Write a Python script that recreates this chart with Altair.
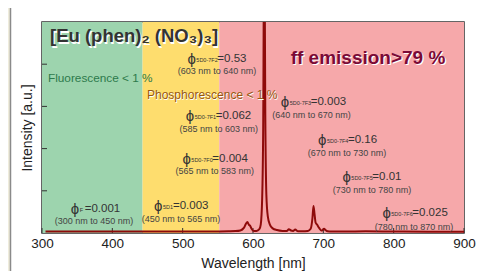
import altair as alt
import pandas as pd

# ---------------- data ----------------
wavelength = [305, 350, 400, 450, 500, 540, 565, 575, 582, 587, 590, 592, 594, 596, 598,
              601, 605, 609, 611, 613, 614.5, 616, 617.5, 619, 621, 624, 628, 634, 642,
              648, 651, 654, 657, 660, 664, 670, 678, 682, 684.5, 686, 687.5, 689, 691,
              694, 697, 699, 701, 703, 706, 712, 730, 760, 800, 850, 900]
intensity = [0.035, 0.035, 0.035, 0.035, 0.035, 0.035, 0.04, 0.045, 0.06, 0.12, 0.22, 0.26, 0.2, 0.17, 0.1,
             0.05, 0.05, 0.09, 0.2, 0.8, 2.5, 7.5, 2.8, 0.9, 0.4, 0.2, 0.11, 0.07, 0.05,
             0.05, 0.09, 0.06, 0.05, 0.08, 0.04, 0.04, 0.05, 0.1, 0.35, 0.64, 0.45, 0.25, 0.2,
             0.12, 0.06, 0.07, 0.1, 0.07, 0.04, 0.035, 0.035, 0.04, 0.035, 0.03, 0.03]

band_name = ["fluorescence", "phosphorescence", "ff"]
band_start = [300, 443, 552]
band_end = [443, 552, 900]
band_color = ["#9dd4ae", "#fedd6e", "#f6a8aa"]

x_ticks = [300, 400, 500, 600, 700, 800, 900]
y_ticks = [1, 2, 3, 4]

phi_w = [518.0, 515.7, 510.9, 352.2, 470.6, 650.8, 703.8, 738.4, 795.2]
phi_u = [4.12, 2.78, 1.75, 0.57, 0.64, 3.10, 2.20, 1.33, 0.47]
phi_sub = ["5D0-7F2", "5D0-7F1", "5D0-7F0", "F", "5D1", "5D0-7F3", "5D0-7F4", "5D0-7F5", "5D0-7F6"]
phi_kind = ["D0", "D0", "D0", "F", "D1", "D0", "D0", "D0", "D0"]
phi_val = ["=0.53", "=0.062", "=0.004", "=0.001", "=0.003", "=0.003", "=0.16", "=0.01", "=0.025"]

range_txt = ["(603 nm to 640 nm)", "(585 nm to 603 nm)", "(565 nm to 583 nm)",
             "(300 nm to 450 nm)", "(450 nm to 565 nm)", "(640 nm to 670 nm)",
             "(670 nm to 730 nm)", "(730 nm to 780 nm)", "(780 nm to 870 nm)"]
range_w = [548.8, 551.2, 545.5, 373.9, 497.6, 683.2, 733.7, 769.2, 828.9]
range_u = [3.84, 2.46, 1.47, 0.28, 0.33, 2.80, 1.90, 1.02, 0.14]

head_txt = ["[Eu (phen)\u2082 (NO\u2083)\u2083]", "ff emission>79 %"]
head_w = [311.4, 763.5]
head_u = [4.66, 4.15]

note_txt = ["Fluorescence < 1 %", "Phosphorescence < 1 %"]
note_w = [308.5, 449.3]
note_u = [3.67, 3.27]

# ---------------- frames ----------------
spec = pd.DataFrame({"w": wavelength, "i": intensity})
bands = pd.DataFrame({"name": band_name, "s": band_start, "e": band_end})
xt = pd.DataFrame({"w": x_ticks})
yt = pd.DataFrame({"u": y_ticks})
phi = pd.DataFrame({"w": phi_w, "u": phi_u, "sub": phi_sub, "kind": phi_kind, "val": phi_val})
rng = pd.DataFrame({"w": range_w, "u": range_u, "t": range_txt})
head = pd.DataFrame({"w": head_w, "u": head_u, "t": head_txt})
note = pd.DataFrame({"w": note_w, "u": note_u, "t": note_txt})

W, H = 422, 211
FONT = "Liberation Sans"
NARROW = "Liberation Sans Narrow, Liberation Sans"

xs = alt.Scale(domain=[300, 900], nice=False, zero=False)
ys = alt.Scale(domain=[0, 5], nice=False, zero=True)
xaxis = alt.Axis(values=x_ticks, tickSize=0, domain=False, grid=False, labelFontSize=13.5,
                 labelPadding=3, labelFlush=False, labelOverlap=False, titleFontSize=14,
                 titlePadding=7, labelColor="#222",
                 titleColor="#222", labelFont=FONT, titleFont=FONT, titleFontWeight="normal")
yaxis = alt.Axis(labels=False, ticks=False, domain=False, grid=False, titleFontSize=14,
                 titlePadding=8, titleColor="#222", titleFont=FONT, titleFontWeight="normal")


def X(f):
    return alt.X(f, type="quantitative", scale=xs, axis=xaxis, title="Wavelength [nm]")


def Y(f):
    return alt.Y(f, type="quantitative", scale=ys, axis=yaxis, title="Intensity [a.u.]")


frame = alt.Chart(pd.DataFrame({"k": [0]})).mark_rect(color="#efecdc").encode(
    x=alt.value(-34), x2=alt.value(-32), y=alt.value(-14), y2=alt.value(H + 40))
frame_line = alt.Chart(pd.DataFrame({"k": [0]})).mark_rule(color="#8a8a8a", strokeWidth=1.5).encode(
    x=alt.value(-31.5), y=alt.value(-14), y2=alt.value(H + 40))

band_layer = alt.Chart(bands).mark_rect().encode(
    x=X("s"), x2="e", y=alt.value(0), y2=alt.value(H),
    color=alt.Color("name:N", scale=alt.Scale(domain=band_name, range=band_color), legend=None))

xtick_layer = alt.Chart(xt).mark_rule(color="#333", strokeWidth=1).encode(
    x=X("w"), y=alt.value(H), y2=alt.value(H - 5))
ytick_layer = alt.Chart(yt).mark_rule(color="#333", strokeWidth=1).encode(
    y=Y("u"), x=alt.value(0), x2=alt.value(5))

line = alt.Chart(spec).mark_line(color="#8e0a0a", strokeWidth=2, clip=True,
                                 interpolate="monotone").encode(x=X("w"), y=Y("i"))

title_df = head.iloc[[0]]
ff_df = head.iloc[[1]]
t1s = alt.Chart(title_df).mark_text(fontSize=18.5, fontWeight="bold", font=FONT, color="white",
                                    align="left", baseline="middle", dx=1.2, dy=1.2).encode(
    x=X("w"), y=Y("u"), text="t")
t1 = alt.Chart(title_df).mark_text(fontSize=18.5, fontWeight="bold", font=FONT, color="#333",
                                   align="left", baseline="middle").encode(x=X("w"), y=Y("u"), text="t")
t2s = alt.Chart(ff_df).mark_text(fontSize=19, fontWeight="bold", font=FONT, color="white",
                                 align="center", baseline="middle", dx=1.2, dy=1.2).encode(
    x=X("w"), y=Y("u"), text="t")
t2 = alt.Chart(ff_df).mark_text(fontSize=19, fontWeight="bold", font=FONT, color="#7a0a36",
                                align="center", baseline="middle").encode(x=X("w"), y=Y("u"), text="t")

fl = alt.Chart(note.iloc[[0]]).mark_text(fontSize=11.8, font=FONT, color="#2d7a4c", align="left",
                                         baseline="middle").encode(x=X("w"), y=Y("u"), text="t")
phs = alt.Chart(note.iloc[[1]]).mark_text(fontSize=12, font=FONT, color="white", align="left",
                                          baseline="middle", dx=0.8, dy=0.8).encode(
    x=X("w"), y=Y("u"), text="t")
ph = alt.Chart(note.iloc[[1]]).mark_text(fontSize=12, font=FONT, color="#95570f", align="left",
                                         baseline="middle").encode(x=X("w"), y=Y("u"), text="t")

phi_sym = alt.Chart(phi).mark_text(text="\u03d5", fontSize=15, font=FONT, color="#333", align="right",
                                   baseline="middle", dx=0.5).encode(x=X("w"), y=Y("u"))
phi_small = alt.Chart(phi).mark_text(fontSize=5.5, font=NARROW, color="#333", align="left",
                                     baseline="middle", dx=1, dy=1).encode(x=X("w"), y=Y("u"), text="sub")
vals = []
for kind, dx in [("D0", 22), ("F", 6), ("D1", 11)]:
    vals.append(alt.Chart(phi).transform_filter(alt.datum.kind == kind).mark_text(
        fontSize=11.5, font=NARROW, color="#333", align="left", baseline="middle", dx=dx).encode(
        x=X("w"), y=Y("u"), text="val"))

rng_layer = alt.Chart(rng).mark_text(fontSize=9, font=NARROW, color="#444", align="center",
                                     baseline="middle").encode(x=X("w"), y=Y("u"), text="t")

chart = alt.layer(
    frame, frame_line, band_layer, xtick_layer, ytick_layer, line,
    t1s, t1, t2s, t2, fl, phs, ph, phi_sym, phi_small, *vals, rng_layer
).properties(
    width=W, height=H,
    autosize=alt.AutoSizeParams(type="none"),
    padding={"left": 34, "top": 14, "right": 15, "bottom": 38},
    background="white",
).configure_view(stroke="#333", strokeWidth=1.5)

chart.save("out.html", embed_options={"renderer": "svg", "actions": False})
